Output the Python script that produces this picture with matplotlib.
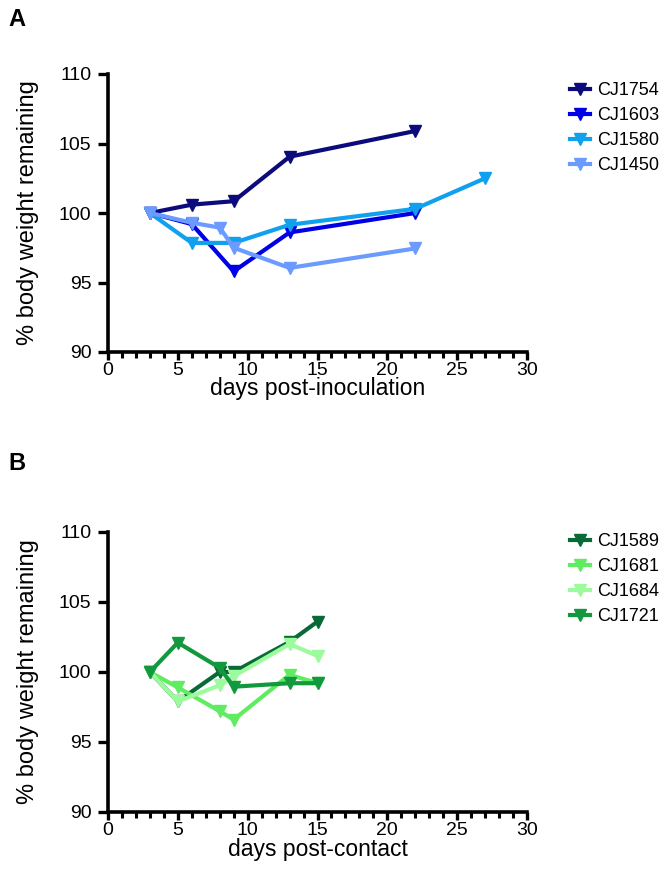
import matplotlib
matplotlib.use("Agg")
import matplotlib.pyplot as plt
from matplotlib.ticker import MultipleLocator

plt.rcParams['font.family'] = ['Liberation Sans', 'DejaVu Sans']

# Panel A data
a_names = ["CJ1754", "CJ1603", "CJ1580", "CJ1450"]
a_colors = ["#0b0b7c", "#0000e6", "#11a0ee", "#6b9bff"]
cj1754_x = [3, 6, 9, 13, 22]
cj1754_y = [100, 100.6, 100.85, 104.05, 105.9]
cj1603_x = [3, 6, 9, 13, 22]
cj1603_y = [100, 99.2, 95.8, 98.6, 100.0]
cj1580_x = [3, 6, 9, 13, 22, 27]
cj1580_y = [100, 97.85, 97.85, 99.15, 100.3, 102.5]
cj1450_x = [3, 6, 8, 9, 13, 22]
cj1450_y = [100, 99.3, 98.95, 97.5, 96.05, 97.45]

# Panel B data
b_names = ["CJ1589", "CJ1681", "CJ1684", "CJ1721"]
b_colors = ["#086a36", "#60ec60", "#9cfb9c", "#12993e"]
cj1589_x = [3, 5, 8, 9, 13, 15]
cj1589_y = [100, 97.9, 100.0, 100.0, 102.15, 103.6]
cj1681_x = [3, 5, 8, 9, 13, 15]
cj1681_y = [100, 98.9, 97.2, 96.6, 99.8, 99.2]
cj1684_x = [3, 5, 8, 9, 13, 15]
cj1684_y = [100, 97.9, 99.05, 99.7, 102.0, 101.15]
cj1721_x = [3, 5, 8, 9, 13, 15]
cj1721_y = [100, 102.1, 100.3, 98.95, 99.2, 99.2]

a_series = [(cj1754_x, cj1754_y), (cj1603_x, cj1603_y), (cj1580_x, cj1580_y), (cj1450_x, cj1450_y)]
b_series = [(cj1589_x, cj1589_y), (cj1681_x, cj1681_y), (cj1684_x, cj1684_y), (cj1721_x, cj1721_y)]

fig = plt.figure(figsize=(6.64, 8.76), dpi=100)
W, H = 664, 876
LEFT, RIGHT = 108, 527

def make_ax(top, bottom):
    return fig.add_axes([LEFT / W, 1 - bottom / H, (RIGHT - LEFT) / W, (bottom - top) / H])

def style(ax, xlabel, top, bottom, xlab_off):
    ax.set_xlim(0, 30)
    ax.set_ylim(90, 110)
    ax.spines['top'].set_visible(False)
    ax.spines['right'].set_visible(False)
    for s in ['left', 'bottom']:
        ax.spines[s].set_linewidth(2.6)
        ax.spines[s].set_color('black')
    ax.xaxis.set_major_locator(MultipleLocator(5))
    ax.xaxis.set_minor_locator(MultipleLocator(1))
    ax.yaxis.set_major_locator(MultipleLocator(5))
    ax.tick_params(axis='x', which='major', direction='out', length=6, width=2.4,
                   labelsize=14, pad=1)
    ax.tick_params(axis='y', which='major', direction='out', length=7, width=2.4,
                   labelsize=14, pad=5)
    ax.tick_params(axis='x', which='minor', direction='out', length=4, width=2.2)
    h = bottom - top
    ax.set_xlabel(xlabel, fontsize=16.5, va='top')
    ax.xaxis.set_label_coords(0.5, -xlab_off / h)
    ax.set_ylabel("% body weight remaining", fontsize=17, va='center')
    ax.yaxis.set_label_coords((28 - LEFT) / (RIGHT - LEFT), 0.5)
    for sp in ax.spines.values():
        sp.set_clip_on(False)

axA = make_ax(74, 352)
for (x, y), c, n in zip(a_series, a_colors, a_names):
    axA.plot(x, y, color=c, lw=3, marker='v', ms=8, label=n, clip_on=False)
style(axA, "days post-inoculation", 74, 352, 25)
axA.legend(loc='upper left', bbox_to_anchor=(570 / W, 1 - 82 / H), bbox_transform=fig.transFigure,
           frameon=False, fontsize=13, handlelength=1.1, handletextpad=0.4, labelspacing=0.45,
           borderaxespad=0, borderpad=0)

axB = make_ax(532, 812)
for (x, y), c, n in zip(b_series, b_colors, b_names):
    axB.plot(x, y, color=c, lw=3, marker='v', ms=8, label=n, clip_on=False)
style(axB, "days post-contact", 532, 812, 26)
axB.legend(loc='upper left', bbox_to_anchor=(570 / W, 1 - 533 / H), bbox_transform=fig.transFigure,
           frameon=False, fontsize=13, handlelength=1.1, handletextpad=0.4, labelspacing=0.45,
           borderaxespad=0, borderpad=0)

fig.text(8 / W, 1 - 20 / H, "A", fontsize=17, fontweight='bold', va='center', ha='left')
fig.text(8 / W, 1 - 463 / H, "B", fontsize=17, fontweight='bold', va='center', ha='left')

fig.savefig("out.png", dpi=100)
